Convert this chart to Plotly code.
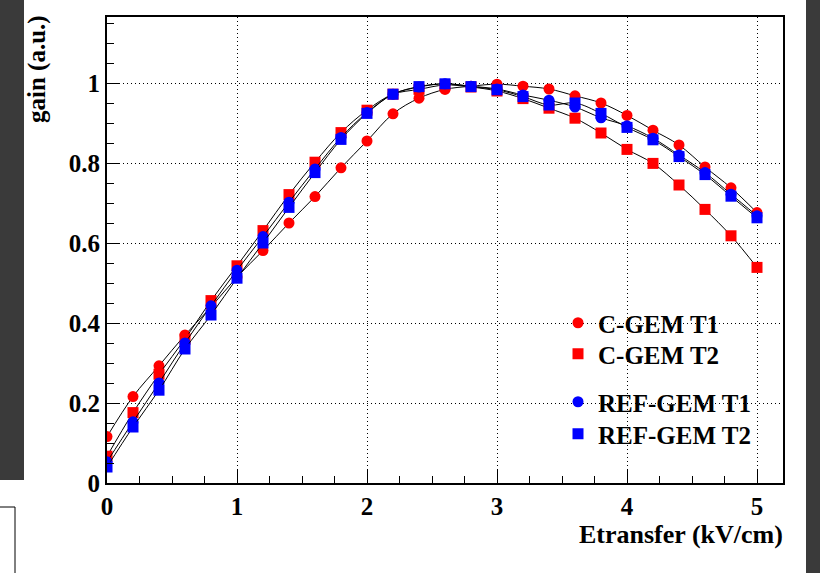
import plotly.graph_objects as go

# ---------------- data ----------------
etransfer = [0.0, 0.2, 0.4, 0.6, 0.8, 1.0, 1.2, 1.4, 1.6, 1.8, 2.0, 2.2, 2.4,
             2.6, 2.8, 3.0, 3.2, 3.4, 3.6, 3.8, 4.0, 4.2, 4.4, 4.6, 4.8, 5.0]

cgem_t1 = [0.116, 0.216, 0.293, 0.370, 0.440, 0.515, 0.581, 0.650, 0.716, 0.788,
           0.855, 0.923, 0.962, 0.984, 0.992, 0.997, 0.992, 0.985, 0.968, 0.950,
           0.919, 0.882, 0.845, 0.790, 0.738, 0.676]

cgem_t2 = [0.067, 0.176, 0.272, 0.360, 0.456, 0.543, 0.631, 0.721, 0.802, 0.876,
           0.932, 0.972, 0.984, 0.995, 0.990, 0.980, 0.961, 0.937, 0.912, 0.875,
           0.834, 0.799, 0.745, 0.684, 0.618, 0.539]

ref_t1 = [0.053, 0.153, 0.250, 0.350, 0.443, 0.532, 0.616, 0.702, 0.785, 0.864,
          0.926, 0.972, 0.990, 0.998, 0.992, 0.985, 0.970, 0.957, 0.940, 0.913,
          0.893, 0.862, 0.820, 0.776, 0.722, 0.668]

ref_t2 = [0.040, 0.140, 0.232, 0.335, 0.420, 0.512, 0.600, 0.689, 0.776, 0.859,
          0.924, 0.972, 0.991, 0.998, 0.991, 0.983, 0.966, 0.945, 0.950, 0.924,
          0.889, 0.858, 0.816, 0.771, 0.717, 0.663]

series_names = ["C-GEM T1", "C-GEM T2", "REF-GEM T1", "REF-GEM T2"]
series_values = [cgem_t1, cgem_t2, ref_t1, ref_t2]
series_colors = ["#ff0000", "#ff0000", "#0000ff", "#0000ff"]
series_symbols = ["circle", "square", "circle", "square"]
series_sizes = [11, 11, 11, 11]

y_tick_vals = [0, 0.2, 0.4, 0.6, 0.8, 1.0]
y_tick_text = ["0", "0.2", "0.4", "0.6", "0.8", "1"]
x_tick_vals = [0, 1, 2, 3, 4, 5]
x_tick_text = ["0", "1", "2", "3", "4", "5"]

# ---------------- layout helpers ----------------
W, H = 820, 573
L, R, T, B = 107, 783, 17, 483


def px(x):
    return (x - L) / (R - L)


def py(y):
    return (B - y) / (B - T)


FONT = "Liberation Serif"
legend_ids = ["legend", "legend2", "legend3", "legend4"]
legend_rows = [323, 354, 402, 434]

fig = go.Figure()
for name, vals, col, sym, sz, lid in zip(series_names, series_values, series_colors,
                                         series_symbols, series_sizes, legend_ids):
    fig.add_trace(go.Scatter(
        x=etransfer, y=vals, mode="lines",
        line=dict(color="black", width=1, shape="spline", smoothing=1),
        showlegend=False, hoverinfo="skip"))
    fig.add_trace(go.Scatter(
        x=etransfer, y=vals, mode="markers", name=name, legend=lid,
        marker=dict(color=col, symbol=sym, size=sz, line=dict(width=0))))

axis_common = dict(
    showline=True, linecolor="black", linewidth=2, mirror=True,
    ticks="inside", ticklen=13, tickwidth=1, tickcolor="black",
    showgrid=True, gridcolor="black", gridwidth=1, griddash="1px,3px",
    zeroline=False,
    tickfont=dict(family=FONT, size=25, color="black", weight="bold"),
)

fig.update_xaxes(
    range=[0, 5.2], tickmode="array", tickvals=x_tick_vals, ticktext=x_tick_text,
    minor=dict(dtick=0.25, tick0=0, ticks="inside", ticklen=7, tickcolor="black",
               showgrid=False),
    **axis_common)
fig.update_yaxes(
    range=[0, 1.165], tickmode="array", tickvals=y_tick_vals, ticktext=y_tick_text,
    minor=dict(dtick=0.05, tick0=0, ticks="inside", ticklen=7, tickcolor="black",
               showgrid=False),
    **axis_common)

shapes = [
    dict(type="rect", xref="paper", yref="paper", x0=px(0), x1=px(24), y0=py(480), y1=py(0),
         fillcolor="#3a3a3a", line=dict(width=0), layer="below"),
    dict(type="rect", xref="paper", yref="paper", x0=px(806), x1=px(820), y0=py(573), y1=py(0),
         fillcolor="#3a3a3a", line=dict(width=0), layer="below"),
    dict(type="line", xref="paper", yref="paper", x0=px(0), x1=px(15), y0=py(507), y1=py(507),
         line=dict(color="black", width=1)),
    dict(type="line", xref="paper", yref="paper", x0=px(15), x1=px(15), y0=py(507), y1=py(573),
         line=dict(color="black", width=1)),
]

annotations = [
    dict(text="gain (a.u.)", xref="paper", yref="paper", x=px(37), y=py(13),
         xanchor="center", yanchor="top", textangle=-90, showarrow=False,
         font=dict(family=FONT, size=25, color="black", weight="bold")),
    dict(text="Etransfer (kV/cm)", xref="paper", yref="paper", x=px(785), y=py(534),
         xanchor="right", yanchor="middle", showarrow=False,
         font=dict(family=FONT, size=26, color="black", weight="bold")),
]

legend_font = dict(family=FONT, size=25, color="black", weight="bold")
legends = {}
for lid, row in zip(legend_ids, legend_rows):
    legends[lid] = dict(x=px(558), y=py(row), xanchor="left", yanchor="middle",
                        bgcolor="rgba(0,0,0,0)", borderwidth=0, font=legend_font)

fig.update_layout(
    width=W, height=H,
    margin=dict(l=L, r=W - R, t=T, b=H - B),
    paper_bgcolor="white", plot_bgcolor="white",
    shapes=shapes, annotations=annotations,
    showlegend=True,
    **legends,
)

fig.write_html("out.html")
